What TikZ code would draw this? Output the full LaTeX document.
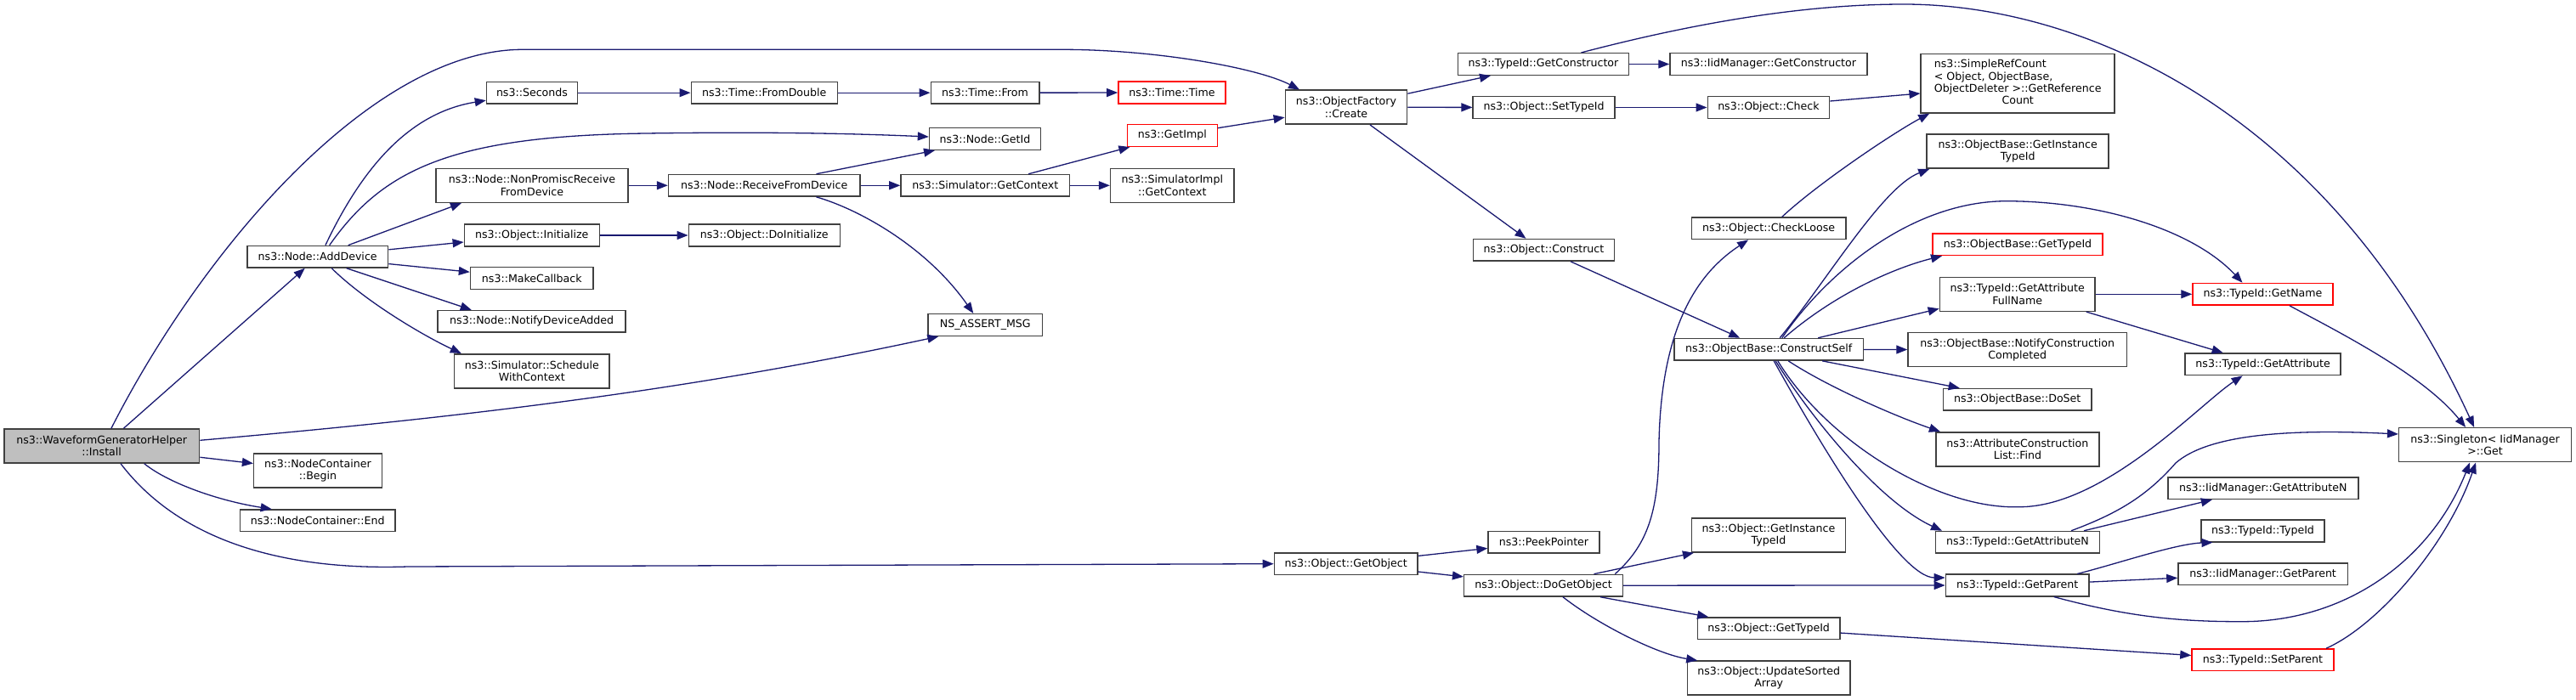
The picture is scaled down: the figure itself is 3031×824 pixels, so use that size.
\documentclass[tikz,border=0pt]{standalone}
\usepackage{fontspec}
\setmainfont{DejaVu Sans}
\usetikzlibrary{arrows.meta}
\definecolor{edgeblue}{HTML}{191970}
\definecolor{frame}{HTML}{404040}
\definecolor{rootgray}{HTML}{BFBFBF}
\definecolor{nodocred}{HTML}{FF0000}
\tikzset{>={Triangle[length=13pt,width=10pt]},
  func/.style={draw=frame,line width=1.5pt,fill=white,inner sep=0pt,align=center,
    minimum height=25.6pt,font=\fontsize{12.6}{14.3}\selectfont},
  wd/.style={minimum width=#1pt},
  tall/.style={minimum height=40pt},
  nodoc/.style={func,draw=nodocred},
  root/.style={func,tall,fill=rootgray},
  call/.style={->,draw=edgeblue,line width=1.3pt}}

\begin{document}
\begin{tikzpicture}[x=1pt,y=-1pt]
\useasboundingbox (0,0) rectangle (3031,824);

\node[root,wd=229.8] (install) at (119.7,525) {ns3::WaveformGeneratorHelper\\::Install};
\node[func,wd=165.8] (adddev) at (373.7,302.2) {ns3::Node::AddDevice};
\node[func,tall,wd=150.7] (ncbegin) at (374,554.2) {ns3::NodeContainer\\::Begin};
\node[func,wd=182.2] (ncend) at (373.7,612.8) {ns3::NodeContainer::End};
\node[func,wd=107] (seconds) at (626,109.2) {ns3::Seconds};
\node[func,tall,wd=226.4] (nonpromisc) at (626,218.3) {ns3::Node::NonPromiscReceive\\FromDevice};
\node[func,wd=158.9] (initialize) at (625.8,277) {ns3::Object::Initialize};
\node[func,wd=144.5] (makecb) at (625.8,327.5) {ns3::MakeCallback};
\node[func,wd=221] (notifyadded) at (625.7,378.3) {ns3::Node::NotifyDeviceAdded};
\node[func,tall,wd=182.3] (schedule) at (625.8,436.8) {ns3::Simulator::Schedule\\WithContext};
\node[func,wd=172.1] (fromdouble) at (899.3,109.2) {ns3::Time::FromDouble};
\node[func,wd=225.4] (receive) at (899.2,218.3) {ns3::Node::ReceiveFromDevice};
\node[func,wd=177.9] (doinit) at (899.3,277) {ns3::Object::DoInitialize};
\node[func,wd=127.5] (timefrom) at (1159,109.2) {ns3::Time::From};
\node[func,wd=130.9] (getid) at (1159,163.5) {ns3::Node::GetId};
\node[func,wd=198.7] (simcontext) at (1159.3,218.3) {ns3::Simulator::GetContext};
\node[func,wd=134.7] (nsassert) at (1159.3,382.5) {NS\_ASSERT\_MSG};
\node[nodoc,wd=126.1] (timetime) at (1379,109) {ns3::Time::Time};
\node[nodoc,wd=105.7] (getimpl) at (1379.4,159.5) {ns3::GetImpl};
\node[func,tall,wd=145.4] (implcontext) at (1379.3,218.3) {ns3::SimulatorImpl\\::GetContext};
\node[func,tall,wd=143.3] (create) at (1584,126.2) {ns3::ObjectFactory\\::Create};
\node[func,wd=168.6] (getobject) at (1583.7,663.7) {ns3::Object::GetObject};
\node[func,wd=201.4] (getctor) at (1816,75.5) {ns3::TypeId::GetConstructor};
\node[func,wd=166.6] (settypeid) at (1816.5,126.5) {ns3::Object::SetTypeId};
\node[func,wd=165.6] (construct) at (1816.5,294.3) {ns3::Object::Construct};
\node[func,wd=130.8] (peek) at (1816.5,638.2) {ns3::PeekPointer};
\node[func,wd=186.6] (dogetobject) at (1816,689.2) {ns3::Object::DoGetObject};
\node[func,wd=231.8] (iidctor) at (2080.9,75.5) {ns3::IidManager::GetConstructor};
\node[func,wd=143.3] (check) at (2080.9,126.5) {ns3::Object::Check};
\node[func,wd=181.6] (checkloose) at (2081.1,268.8) {ns3::Object::CheckLoose};
\node[func,wd=222.3] (constructself) at (2081.2,411.3) {ns3::ObjectBase::ConstructSelf};
\node[func,tall,wd=181.1] (objinstid) at (2080.9,630) {ns3::Object::GetInstance\\TypeId};
\node[func,wd=167.6] (objtypeid) at (2081.1,739.7) {ns3::Object::GetTypeId};
\node[func,tall,wd=191.5] (updsorted) at (2081.2,798.2) {ns3::Object::UpdateSorted\\Array};
\node[func,minimum height=69.3pt,wd=228] (refcount) at (2374.2,98.3) {\begin{tabular}{@{}l@{}}ns3::SimpleRefCount\\< Object, ObjectBase,\\ObjectDeleter >::GetReference\\\multicolumn{1}{@{}c@{}}{Count}\end{tabular}};
\node[func,tall,wd=214] (obinstid) at (2374.2,178.2) {ns3::ObjectBase::GetInstance\\TypeId};
\node[nodoc,wd=200.3] (obtypeid) at (2374,287.7) {ns3::ObjectBase::GetTypeId};
\node[func,tall,wd=182.6] (attrfull) at (2373.7,346.3) {ns3::TypeId::GetAttribute\\FullName};
\node[func,tall,wd=257.3] (notifydone) at (2373.7,411.7) {ns3::ObjectBase::NotifyConstruction\\Completed};
\node[func,wd=174.6] (doset) at (2373.7,470.3) {ns3::ObjectBase::DoSet};
\node[func,tall,wd=192.2] (attrfind) at (2373.9,528.8) {ns3::AttributeConstruction\\List::Find};
\node[func,wd=193.3] (tiattrn) at (2374,638.3) {ns3::TypeId::GetAttributeN};
\node[func,wd=168.6] (tiparent) at (2373.7,689) {ns3::TypeId::GetParent};
\node[nodoc,wd=165] (getname) at (2662.5,346.3) {ns3::TypeId::GetName};
\node[func,wd=183.1] (getattr) at (2662.6,428.8) {ns3::TypeId::GetAttribute};
\node[func,wd=224] (iidattrn) at (2662.8,574.7) {ns3::IidManager::GetAttributeN};
\node[func,wd=144.8] (typeidctor) at (2662.5,625) {ns3::TypeId::TypeId};
\node[func,wd=199.3] (iidparent) at (2662.6,675.7) {ns3::IidManager::GetParent};
\node[nodoc,wd=167] (setparent) at (2662.5,776.8) {ns3::TypeId::SetParent};
\node[func,tall,wd=202.8] (singleton) at (2924.1,523.7) {ns3::Singleton< IidManager\\>::Get};

\draw[call] ([xshift=11.2pt]install.north) .. controls (240,290) and (440,58.3) .. (615,58.3) -- (1250,58.3) .. controls (1360,58.3) and (1480,80) .. ([xshift=-55pt]create.north);
\draw[call] ([xshift=25.7pt]install.north) -- ([xshift=-15pt]adddev.south);
\draw[call] ([yshift=6.7pt]install.east) .. controls (535,492) and (804,461) .. ([xshift=-55pt]nsassert.south);
\draw[call] (install) -- (ncbegin);
\draw[call] ([xshift=50pt]install.south) .. controls (200,570) and (260,590) .. ([xshift=-54pt]ncend.north);
\draw[call] ([xshift=22.3pt]install.south) .. controls (210,635) and (330,672) .. (480,667) -- (getobject.west);

\draw[call] ([xshift=9.2pt]adddev.north) .. controls (425,200) and (480,133) .. ([yshift=-9pt]seconds.west);
\draw[call] ([xshift=14pt]adddev.north) .. controls (450,200) and (530,160) .. (760,157) .. controls (900,155) and (1000,157) .. ([yshift=2.5pt]getid.west);
\draw[call] ([xshift=36pt]adddev.north) -- ([xshift=-83pt]nonpromisc.south);
\draw[call] (adddev) -- (initialize);
\draw[call] (adddev) -- (makecb);
\draw[call] ([xshift=34pt]adddev.south) -- ([xshift=-71pt]notifyadded.north);
\draw[call] ([xshift=16.5pt]adddev.south) .. controls (430,355) and (498,395) .. ([xshift=-83pt]schedule.north);

\draw[call] (seconds) -- (fromdouble);
\draw[call] (fromdouble) -- (timefrom);
\draw[call] (timefrom) -- (timetime);
\draw[call] (nonpromisc) -- (receive);
\draw[call] (initialize) -- (doinit);
\draw[call] ([xshift=61.3pt]receive.north) -- ([xshift=-59pt]getid.south);
\draw[call] (receive) -- (simcontext);
\draw[call] ([xshift=61.3pt]receive.south) .. controls (1010,246) and (1090,290) .. ([xshift=-14pt]nsassert.north);
\draw[call] ([xshift=50.9pt]simcontext.north) -- ([xshift=-50pt]getimpl.south);
\draw[call] (simcontext) -- (implcontext);
\draw[call] ([yshift=8.8pt]getimpl.east) -- ([yshift=-12pt]create.west);

\draw[call] ([yshift=16pt]create.east) -- ([xshift=-62pt]getctor.south);
\draw[call] (create) -- (settypeid);
\draw[call] ([xshift=28pt]create.south) -- ([xshift=-21pt]construct.north);
\draw[call] (getctor) -- (iidctor);
\draw[call] ([xshift=44.5pt]getctor.north) .. controls (1990,28) and (2120,5) .. (2240,5) .. controls (2450,5) and (2740,130) .. ([xshift=-13pt]singleton.north);
\draw[call] (settypeid) -- (check);
\draw[call] ([yshift=7.5pt]check.east) -- ([yshift=-11.7pt]refcount.west);
\draw[call] ([xshift=15.7pt]checkloose.north) .. controls (2140,215) and (2230,155) .. ([xshift=-104pt]refcount.south);
\draw[call] ([xshift=31.5pt]construct.south) -- ([xshift=-34pt]constructself.north);

\draw[call] ([xshift=13pt]constructself.north) .. controls (2150,330) and (2215,220) .. ([xshift=-104pt]obinstid.south);
\draw[call] ([xshift=15.6pt]constructself.north) .. controls (2150,320) and (2250,237) .. (2361,236.7) .. controls (2470,237) and (2580,270) .. ([xshift=-24pt]getname.north);
\draw[call] ([xshift=18pt]constructself.north) .. controls (2160,345) and (2230,315) .. ([xshift=-89pt]obtypeid.south);
\draw[call] ([xshift=58pt]constructself.north) -- ([yshift=-17pt]attrfull.west);
\draw[call] (constructself) -- (notifydone);
\draw[call] ([xshift=63pt]constructself.south) -- ([xshift=-68pt]doset.north);
\draw[call] ([xshift=23pt]constructself.south) .. controls (2150,455) and (2230,490) .. ([xshift=-91pt]attrfind.north);
\draw[call] ([xshift=10.6pt]constructself.south) .. controls (2150,520) and (2280,600) .. (2376,596.7) .. controls (2476,597) and (2589,475) .. ([xshift=-24pt]getattr.south);
\draw[call] ([xshift=8pt]constructself.south) .. controls (2130,490) and (2210,590) .. ([xshift=-89pt]tiattrn.north);
\draw[call] ([xshift=6pt]constructself.south) .. controls (2140,520) and (2235,680) .. ([yshift=9pt]tiparent.west);

\draw[call] (getobject) -- (peek);
\draw[call] (getobject) -- (dogetobject);
\draw[call] ([xshift=84.3pt]dogetobject.north) .. controls (1940,640) and (1952,600) .. (1952,520) .. controls (1955,380) and (2000,320) .. ([xshift=-24pt]checkloose.south);
\draw[call] ([xshift=59.5pt]dogetobject.north) -- ([xshift=-88pt]objinstid.south);
\draw[call] (dogetobject) -- (tiparent);
\draw[call] ([xshift=67pt]dogetobject.south) -- ([xshift=-71pt]objtypeid.north);
\draw[call] ([xshift=23pt]dogetobject.south) .. controls (1880,735) and (1950,770) .. ([xshift=-84pt]updsorted.north);
\draw[call] (objtypeid) -- (setparent);
\draw[call] ([xshift=74.5pt]setparent.north) .. controls (2800,735) and (2880,640) .. ([xshift=-11pt]singleton.south);

\draw[call] ([xshift=70.5pt]tiparent.north) .. controls (2490,664) and (2560,640) .. ([xshift=-59pt]typeidctor.south);
\draw[call] (tiparent) -- (iidparent);
\draw[call] ([xshift=43pt]tiparent.south) .. controls (2500,725) and (2560,732) .. (2640,731.7) .. controls (2760,731) and (2860,660) .. ([xshift=-18pt]singleton.south);
\draw[call] ([xshift=78pt]tiattrn.north) -- ([xshift=-60pt]iidattrn.south);
\draw[call] ([xshift=63pt]tiattrn.north) .. controls (2490,605) and (2525,585) .. (2560,545) .. controls (2600,510) and (2700,505) .. ([yshift=12.7pt]singleton.west);
\draw[call] (attrfull) -- (getname);
\draw[call] ([xshift=81pt]attrfull.south) -- ([xshift=-47pt]getattr.north);
\draw[call] ([xshift=31.5pt]getname.south) .. controls (2750,390) and (2850,440) .. ([xshift=-23pt]singleton.north);
\end{tikzpicture}
\end{document}
